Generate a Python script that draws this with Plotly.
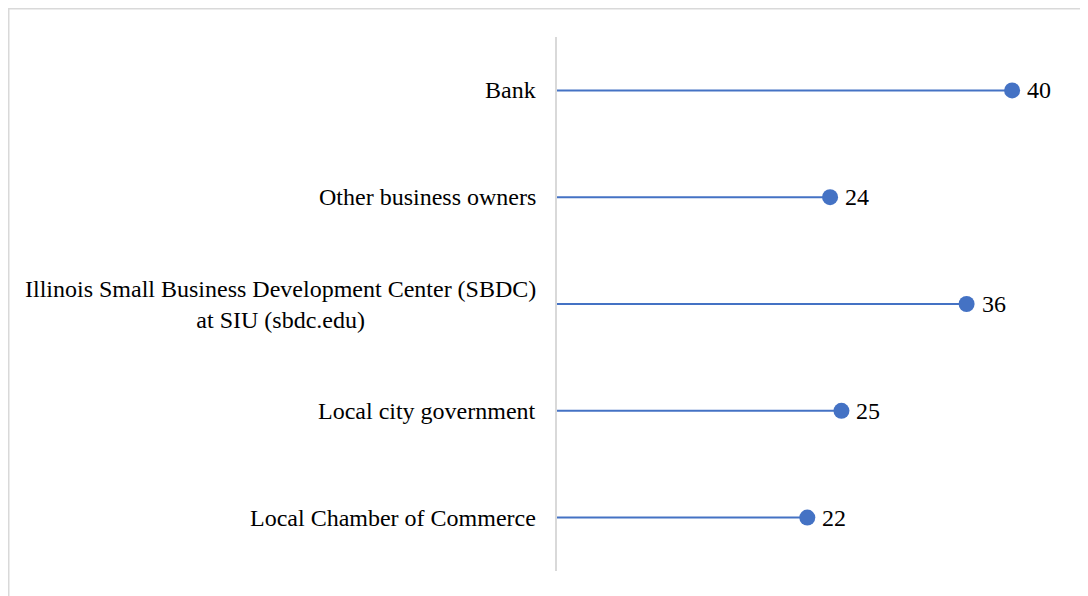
import plotly.graph_objects as go

categories = [
    "Bank",
    "Other business owners",
    "Illinois Small Business Development Center (SBDC)<br>at SIU (sbdc.edu)",
    "Local city government",
    "Local Chamber of Commerce",
]
values = [40, 24, 36, 25, 22]

BLUE = "#4472C4"
FONT = "Liberation Serif, Times New Roman, serif"

L, R, T, B = 549, 27, 29, 33
PW, PH = 1088 - L - R, 596 - T - B

fig = go.Figure()

# stems
lx, ly = [], []
for c, v in zip(categories, values):
    lx += [0, v, None]
    ly += [c, c, None]
fig.add_trace(go.Scatter(x=lx, y=ly, mode="lines",
                         line=dict(color=BLUE, width=2), hoverinfo="skip",
                         showlegend=False))

# heads
fig.add_trace(go.Scatter(x=values, y=categories, mode="markers",
                         marker=dict(color=BLUE, size=16),
                         showlegend=False))

# value labels
for c, v in zip(categories, values):
    fig.add_annotation(x=v, y=c, xref="x", yref="y", text=str(v),
                       showarrow=False, xanchor="left", yanchor="middle",
                       xshift=13,
                       font=dict(family=FONT, size=24, color="black"))

# category labels (centred multi-line)
for c in categories:
    fig.add_annotation(x=0, y=c, xref="x", yref="y", text=c, showarrow=False,
                       xanchor="right", yanchor="middle", align="center",
                       xshift=-19,
                       font=dict(family=FONT, size=24, color="black"))

fig.update_layout(
    width=1088, height=596,
    margin=dict(l=L, r=R, t=T, b=B),
    paper_bgcolor="white", plot_bgcolor="white",
    font=dict(family=FONT, size=24, color="black"),
    xaxis=dict(range=[0, 45], showgrid=False, zeroline=False,
               showline=False, showticklabels=False, fixedrange=True),
    yaxis=dict(categoryorder="array", categoryarray=categories[::-1],
               showgrid=False, zeroline=False, showticklabels=False,
               showline=True, linecolor="#d9d9d9", linewidth=1.5,
               ticks="", range=[-0.5, 4.5]),
    shapes=[dict(type="rect", xref="paper", yref="paper",
                 x0=(0.75 - L) / PW, x1=1.2, y0=-0.2, y1=1 + (T - 0.75) / PH,
                 line=dict(color="#d9d9d9", width=1.5), layer="below")],
)

fig.write_html("out.html")
